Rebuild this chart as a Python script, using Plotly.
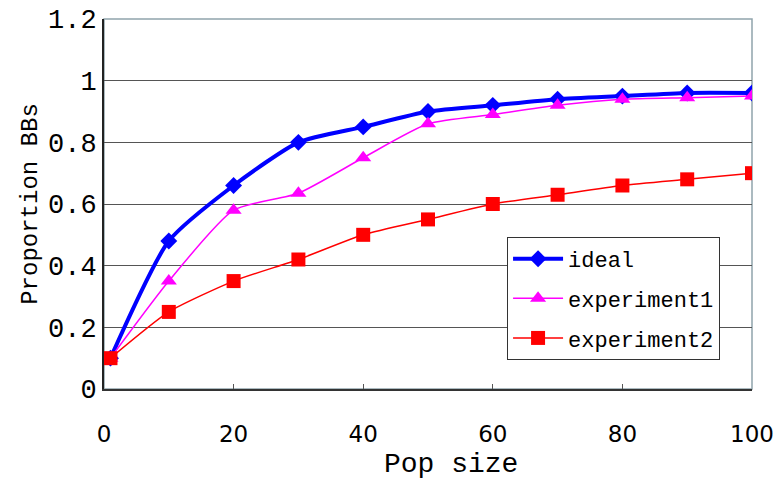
import plotly.graph_objects as go

pop_size = [1, 10, 20, 30, 40, 50, 60, 70, 80, 90, 100]
ideal = [0.10, 0.48, 0.66, 0.80, 0.85, 0.90, 0.92, 0.94, 0.95, 0.96, 0.96]
experiment1 = [0.10, 0.35, 0.58, 0.635, 0.75, 0.86, 0.89, 0.92, 0.94, 0.945, 0.95]
experiment2 = [0.10, 0.25, 0.35, 0.42, 0.50, 0.55, 0.60, 0.63, 0.66, 0.68, 0.70]
y_ticks = [0, 0.2, 0.4, 0.6, 0.8, 1.0, 1.2]
y_labels = ["0", "0.2", "0.4", "0.6", "0.8", "1", "1.2"]
x_ticks = [0, 20, 40, 60, 80, 100]

fig = go.Figure()
fig.add_trace(go.Scatter(x=pop_size, y=ideal, name="ideal", mode="lines+markers", legendgroup="a",
                         line=dict(color="#0000ff", width=4, shape="spline", smoothing=0.6),
                         marker=dict(symbol="diamond", size=13, color="#0000ff")))
fig.add_trace(go.Scatter(x=pop_size, y=experiment1, name="experiment1", mode="lines+markers", legendgroup="b",
                         line=dict(color="#ff00ff", width=1.5, shape="spline", smoothing=0.6),
                         marker=dict(symbol="triangle-up", size=14, color="#ff00ff")))
fig.add_trace(go.Scatter(x=pop_size, y=experiment2, name="experiment2", mode="lines+markers", legendgroup="c",
                         line=dict(color="#ff0000", width=1.5, shape="spline", smoothing=0.6),
                         marker=dict(symbol="square", size=14, color="#ff0000")))

fig.add_shape(type="rect", xref="paper", yref="paper", x0=0, x1=1, y0=0, y1=1,
              line=dict(color="#90a4ac", width=1.5), layer="below")

fig.add_annotation(text="Pop size", xref="paper", yref="paper", x=0.535, y=-0.205,
                   xanchor="center", yanchor="middle", showarrow=False,
                   font=dict(family="Liberation Mono", size=28, color="black"))

fig.update_layout(
    width=778, height=480,
    margin=dict(l=104, r=26, t=19, b=91, autoexpand=False),
    paper_bgcolor="white", plot_bgcolor="white",
    showlegend=True,
    legend=dict(x=0.622, y=0.411, xanchor="left", yanchor="top",
                bgcolor="white", bordercolor="#333333", borderwidth=1,
                font=dict(family="Liberation Mono", size=22, color="black"),
                itemwidth=50, tracegroupgap=8),
    xaxis=dict(range=[0, 100], tickvals=x_ticks, showgrid=False, zeroline=False,
               automargin=False,
               showline=True, linecolor="#333333", linewidth=2,
               ticks="inside", ticklen=5, tickcolor="#555555",
               ticklabelstandoff=23,
               tickfont=dict(family="DejaVu Sans", size=23, color="black")),
    yaxis=dict(range=[0, 1.2], tickvals=y_ticks, ticktext=y_labels,
               showgrid=True, gridcolor="#555555", gridwidth=1, zeroline=False,
               automargin=False,
               showline=True, linecolor="#222222", linewidth=2,
               ticks="inside", ticklen=5, tickcolor="#555555",
               tickfont=dict(family="Liberation Mono", size=27, color="black"),
               title=dict(text="Proportion BBs", font=dict(family="Liberation Mono", size=24, color="black"),
                          standoff=4)),
)

fig.write_html("out.html")
